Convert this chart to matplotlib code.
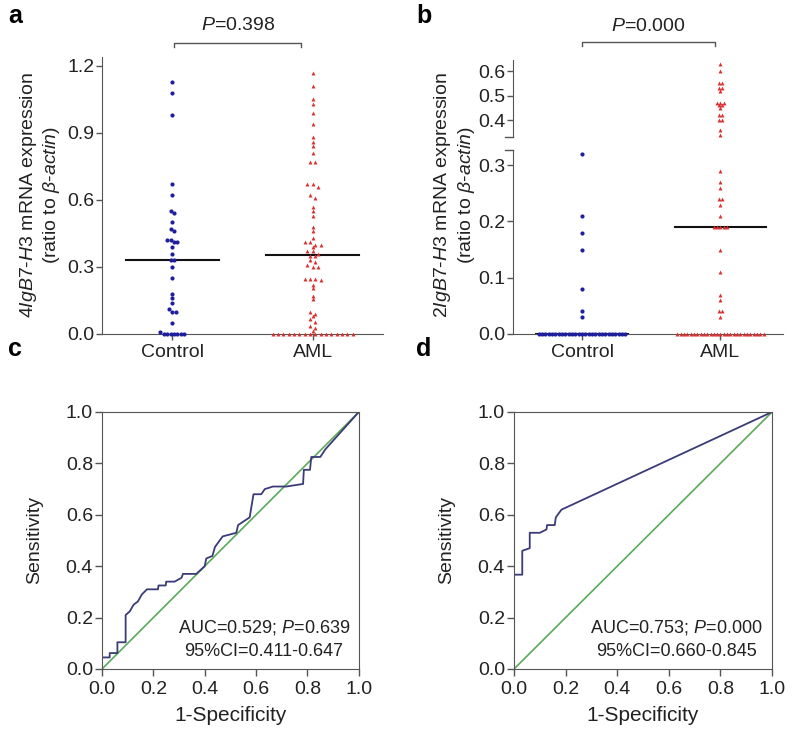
import numpy as np
import matplotlib
matplotlib.use('Agg')
import matplotlib.pyplot as plt

plt.rcParams['font.family'] = ['Liberation Sans', 'DejaVu Sans']
plt.rcParams['mathtext.fontset'] = 'custom'
plt.rcParams['mathtext.rm'] = 'Liberation Sans'
plt.rcParams['mathtext.it'] = 'Liberation Sans:italic'
plt.rcParams['axes.edgecolor'] = '#555555'
plt.rcParams['xtick.color'] = '#555555'
plt.rcParams['ytick.color'] = '#555555'
plt.rcParams['xtick.labelcolor'] = '#222222'
plt.rcParams['ytick.labelcolor'] = '#222222'

# ---- data ----
groups = ['Control', 'AML']

# panel a: 4IgB7-H3
a_control = [1.13, 1.08, 0.98, 0.67, 0.62, 0.55, 0.54, 0.50, 0.47, 0.46, 0.42, 0.42,
             0.41, 0.41, 0.39, 0.36, 0.33, 0.33, 0.30, 0.25, 0.18, 0.16, 0.14, 0.11,
             0.10, 0.10, 0.05, 0.01, 0, 0, 0, 0, 0, 0, 0]
a_aml = [1.17, 1.11, 1.05, 1.03, 0.99, 0.94, 0.88, 0.86, 0.84, 0.81, 0.77, 0.77,
         0.67, 0.66, 0.67, 0.62, 0.61, 0.57, 0.55, 0.53, 0.48, 0.46, 0.43, 0.41,
         0.40, 0.40, 0.41, 0.39, 0.37, 0.37, 0.36, 0.35, 0.35, 0.33, 0.32, 0.31,
         0.30, 0.30, 0.245, 0.24, 0.245, 0.245, 0.22, 0.205, 0.17, 0.155, 0.10,
         0.09, 0.08, 0.065, 0.055, 0.035, 0.025, 0.015,
         0, 0, 0, 0, 0, 0, 0, 0, 0, 0, 0, 0, 0, 0, 0, 0]
a_median = [0.33, 0.355]
a_pval = '$\\mathit{P}$=0.398'

# panel b: 2IgB7-H3
b_control = [0.32, 0.21, 0.18, 0.15, 0.08, 0.04, 0.03] + [0] * 27
b_aml = [0.63, 0.60, 0.55, 0.55, 0.53, 0.53, 0.52, 0.47, 0.47, 0.47, 0.46, 0.46,
         0.45, 0.42, 0.42, 0.40, 0.40, 0.36, 0.34,
         0.29, 0.27, 0.26, 0.24, 0.24, 0.23, 0.21, 0.19, 0.19, 0.19, 0.19, 0.19,
         0.15, 0.11, 0.07, 0.06, 0.04, 0.04, 0.03] + [0] * 27
b_median = [0.0, 0.19]
b_pval = '$\\mathit{P}$=0.000'

# ROC curves (1-specificity, sensitivity)
c_fpr = [0, 0, 0.03, 0.03, 0.06, 0.06, 0.092, 0.092, 0.108, 0.123, 0.14, 0.155, 0.175,
         0.218, 0.22, 0.248, 0.25, 0.283, 0.31, 0.315, 0.367, 0.40, 0.406, 0.43,
         0.44, 0.47, 0.523, 0.53, 0.575, 0.59, 0.62, 0.634, 0.666, 0.718, 0.783,
         0.786, 0.81, 0.815, 0.85, 0.87, 1.0]
c_tpr = [0, 0.045, 0.045, 0.062, 0.062, 0.104, 0.104, 0.21, 0.224, 0.25, 0.263, 0.29,
         0.31, 0.31, 0.325, 0.325, 0.34, 0.34, 0.355, 0.37, 0.37, 0.40, 0.43, 0.44,
         0.475, 0.516, 0.53, 0.56, 0.59, 0.68, 0.68, 0.70, 0.71, 0.71, 0.72,
         0.775, 0.775, 0.825, 0.825, 0.855, 1.0]
c_text = ['AUC=0.529; $\\mathit{P}$=0.639', '95%CI=0.411-0.647']

d_fpr = [0, 0, 0.032, 0.032, 0.061, 0.061, 0.10, 0.126, 0.128, 0.158, 0.162, 0.184, 1.0]
d_tpr = [0, 0.367, 0.367, 0.46, 0.47, 0.53, 0.53, 0.543, 0.56, 0.56, 0.59, 0.62, 1.0]
d_text = ['AUC=0.753; $\\mathit{P}$=0.000', '95%CI=0.660-0.845']

blue = '#1f1f9e'
red = '#d83030'
navy = '#3b3b78'
green = '#5aaa5a'
txtc = '#222222'
half = 0.33   # half width of the median bar


# spread points of similar value sideways (simple deterministic swarm)
def swarm(values, center, spacing, tol):
    vals = np.sort(np.asarray(values, dtype=float))[::-1]
    xs, ys = [], []
    i = 0
    while i < len(vals):
        j = i
        while j + 1 < len(vals) and vals[i] - vals[j + 1] <= tol:
            j += 1
        n = j - i + 1
        for k in range(n):
            xs.append(center + (k - (n - 1) / 2) * spacing)
            ys.append(vals[i + k])
        i = j + 1
    return np.array(xs), np.array(ys)


fig = plt.figure(figsize=(8, 7.43), dpi=100)

# ---------------- panel a ----------------
ax = fig.add_axes([0.1275, 0.5505, 0.351, 0.3728])
xs, ys = swarm(a_control, 0, 0.024, 0.012)
ax.scatter(xs, ys, s=9, color=blue, marker='o', zorder=3, clip_on=False, linewidths=0)
xs, ys = swarm(a_aml, 1, 0.038, 0.012)
ax.scatter(xs, ys, s=8, color=red, marker='^', zorder=3, clip_on=False, linewidths=0)
for i, m in enumerate(a_median):
    ax.plot([i - half, i + half], [m, m], color='#111111', lw=1.5, zorder=2)
ax.set_xlim(-0.5, 1.5)
ax.set_ylim(0, 1.24)
ax.set_yticks([0, 0.3, 0.6, 0.9, 1.2])
ax.set_yticklabels(['0.0', '0.3', '0.6', '0.9', '1.2'])
ax.set_xticks([0, 1])
ax.set_xticklabels(groups)
for s in ['top', 'right']:
    ax.spines[s].set_visible(False)
ax.tick_params(labelsize=14, length=4, width=1)
ax.tick_params(axis='y', pad=1.5)
ax.plot([0.014, 0.014, 0.92, 0.92], [1.285, 1.303, 1.303, 1.285], color='#555555', lw=1,
        clip_on=False)
ax.text(0.467, 1.379, a_pval, ha='center', va='center', fontsize=14, color=txtc)

fig.text(0.05, 0.737, '$\\mathit{4IgB7}$-$\\mathit{H3}$ mRNA expression\n(ratio to $\\beta$-$\\mathit{actin}$)',
         rotation=90, ha='center', va='center', fontsize=14, color=txtc,
         multialignment='center', linespacing=1.15)

# ---------------- panel b (broken y axis) ----------------
axl = fig.add_axes([0.641, 0.5505, 0.3375, 0.2476])
axu = fig.add_axes([0.641, 0.8156, 0.3375, 0.1036])
lo_lim = (0, 0.327)
hi_lim = (0.331, 0.645)
for axx, lim in [(axl, lo_lim), (axu, hi_lim)]:
    xs, ys = swarm(b_control, 0, 0.024, 0.006)
    keep = (ys >= lim[0]) & (ys <= lim[1])
    axx.scatter(xs[keep], ys[keep], s=9, color=blue, marker='o', zorder=3,
                clip_on=False, linewidths=0)
    xs, ys = swarm(b_aml, 1, 0.024, 0.006)
    keep = (ys >= lim[0]) & (ys <= lim[1])
    axx.scatter(xs[keep], ys[keep], s=8, color=red, marker='^', zorder=3,
                clip_on=False, linewidths=0)
    for i, m in enumerate(b_median):
        if lim[0] <= m <= lim[1]:
            axx.plot([i - half, i + half], [m, m], color='#111111', lw=1.5, zorder=2)
    axx.set_xlim(-0.5, 1.45)
    axx.set_ylim(*lim)
    for s in ['top', 'right']:
        axx.spines[s].set_visible(False)
    axx.tick_params(labelsize=14, length=4, width=1)
    axx.tick_params(axis='y', pad=1.5)
axl.set_yticks([0, 0.1, 0.2, 0.3])
axl.set_yticklabels(['0.0', '0.1', '0.2', '0.3'])
axl.set_xticks([0, 1])
axl.set_xticklabels(groups)
axu.set_yticks([0.4, 0.5, 0.6])
axu.set_yticklabels(['0.4', '0.5', '0.6'])
axu.set_xticks([])
axu.spines['bottom'].set_visible(False)
# break caps
axl.plot([-0.03, 0], [1, 1], transform=axl.transAxes, color='#555555', lw=1, clip_on=False)
axu.plot([-0.03, 0], [0, 0], transform=axu.transAxes, color='#555555', lw=1, clip_on=False)
axu.plot([0, 0, 0.96, 0.96], [1.18, 1.23, 1.23, 1.18], transform=axu.get_xaxis_transform(),
         color='#555555', lw=1, clip_on=False)
axu.text(0.48, 1.43, b_pval, ha='center', va='center', fontsize=14,
         color=txtc, transform=axu.get_xaxis_transform())

fig.text(0.568, 0.737, '$\\mathit{2IgB7}$-$\\mathit{H3}$ mRNA expression\n(ratio to $\\beta$-$\\mathit{actin}$)',
         rotation=90, ha='center', va='center', fontsize=14, color=txtc,
         multialignment='center', linespacing=1.15)

# ---------------- ROC panels ----------------
for pos, fpr, tpr, txt in [([0.1275, 0.0996, 0.321, 0.3459], c_fpr, c_tpr, c_text),
                           ([0.6425, 0.0996, 0.3225, 0.3459], d_fpr, d_tpr, d_text)]:
    axr = fig.add_axes(pos)
    axr.plot([0, 1], [0, 1], color=green, lw=1.2)
    axr.plot(fpr, tpr, color=navy, lw=1.3)
    axr.set_xlim(0, 1)
    axr.set_ylim(0, 1)
    ticks = [0, 0.2, 0.4, 0.6, 0.8, 1.0]
    axr.set_xticks(ticks)
    axr.set_yticks(ticks)
    axr.set_xticklabels(['%.1f' % t for t in ticks])
    axr.set_yticklabels(['%.1f' % t for t in ticks])
    axr.tick_params(labelsize=14, length=5, width=1)
    axr.tick_params(axis='y', pad=1.5)
    axr.set_xlabel('1-Specificity', fontsize=15, color=txtc, labelpad=6)
    axr.set_ylabel('Sensitivity', fontsize=14, color=txtc)
    axr.yaxis.set_label_coords(-0.23, 0.5)
    axr.text(0.63, 0.16, txt[0], ha='center', va='center', fontsize=13, color=txtc)
    axr.text(0.63, 0.07, txt[1], ha='center', va='center', fontsize=13, color=txtc)

for lab, x, y in [('a', 0.01, 0.978), ('b', 0.52, 0.978), ('c', 0.01, 0.53), ('d', 0.52, 0.53)]:
    fig.text(x, y, lab, fontsize=18, fontweight='bold', ha='left', va='center')

fig.savefig('out.png', dpi=100)
